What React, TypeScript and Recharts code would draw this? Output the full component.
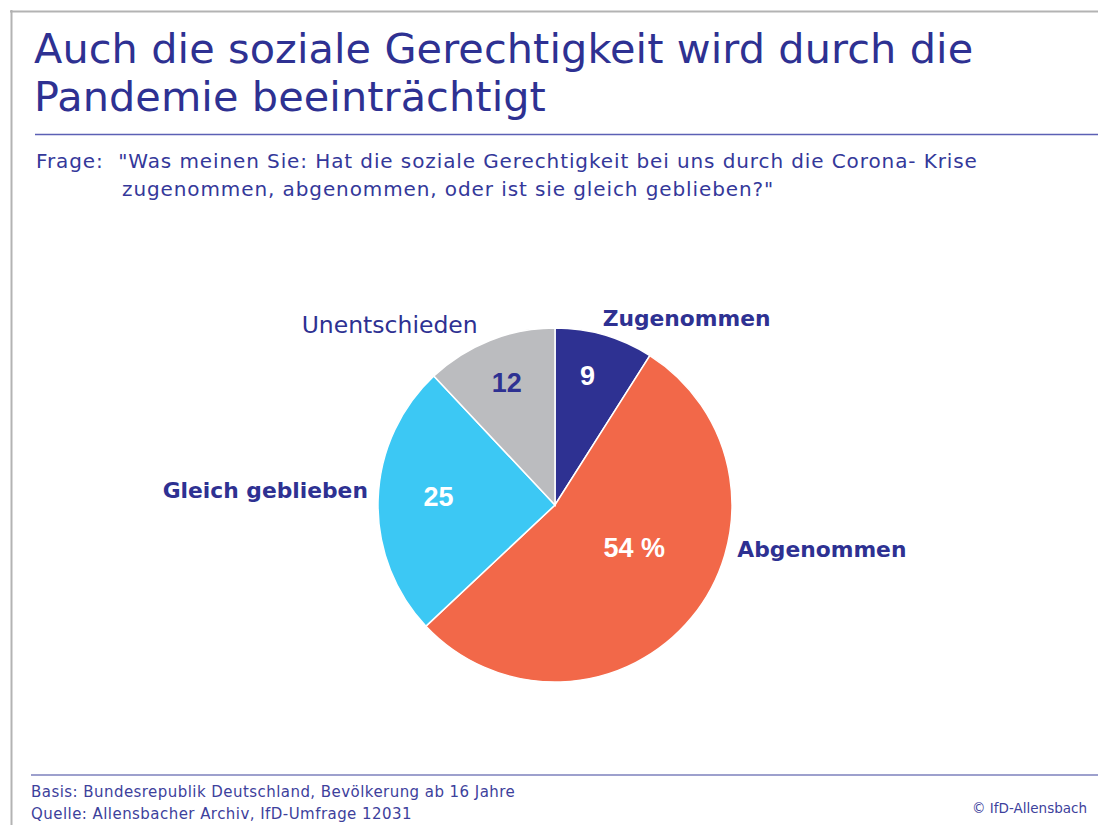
import React from "react";
import { PieChart, Pie, Cell } from "recharts";

const categories = ["Zugenommen", "Abgenommen", "Gleich geblieben", "Unentschieden"];
const shares = [9, 54, 25, 12];
const shareLabels = ["9", "54 %", "25", "12"];

const titleLines = ["Auch die soziale Gerechtigkeit wird durch die", "Pandemie beeinträchtigt"];
const questionLines = [
  "Frage:  \"Was meinen Sie: Hat die soziale Gerechtigkeit bei uns durch die Corona- Krise",
  "zugenommen, abgenommen, oder ist sie gleich geblieben?\"",
];
const footerLines = [
  "Basis: Bundesrepublik Deutschland, Bevölkerung ab 16 Jahre",
  "Quelle: Allensbacher Archiv, IfD-Umfrage 12031",
];
const copyright = "© IfD-Allensbach";

const NAVY = "#2E3192";
const sliceColors = ["#2E3192", "#F26849", "#3CC8F4", "#BBBCBF"];
const valueColors = ["#ffffff", "#ffffff", "#ffffff", NAVY];

// label placement relative to each slice's mid angle
const inside = [
  { r: 0.75, shift: 2 },
  { r: 0.51, shift: 11 },
  { r: 0.66, shift: -2 },
  { r: 0.74, shift: 0 },
];
const outside = [
  { r: 1.29, shift: -19, anchor: "middle", bold: true },
  { r: 1.06, shift: 26, anchor: "start", bold: true },
  { r: 1.06, shift: -2.5, anchor: "end", bold: true },
  { r: 1.38, shift: 21, anchor: "middle", bold: false },
];

const data = categories.map((name, i) => ({ name, value: shares[i], text: shareLabels[i] }));

const RAD = Math.PI / 180;

const renderLabel = (props: any) => {
  const { cx, cy, midAngle, outerRadius, index } = props;
  const inn = inside[index];
  const out = outside[index];
  const a1 = (midAngle + inn.shift) * RAD;
  const a2 = (midAngle + out.shift) * RAD;
  return (
    <g>
      <text
        x={cx + outerRadius * inn.r * Math.cos(a1)}
        y={cy - outerRadius * inn.r * Math.sin(a1)}
        textAnchor="middle"
        dominantBaseline="central"
        fill={valueColors[index]}
        fontFamily="Liberation Sans, Arial, sans-serif"
        fontWeight="bold"
        fontSize={27}
      >
        {data[index].text}
      </text>
      <text
        x={cx + outerRadius * out.r * Math.cos(a2)}
        y={cy - outerRadius * out.r * Math.sin(a2)}
        textAnchor={out.anchor as any}
        dominantBaseline="central"
        fill={NAVY}
        fontFamily="DejaVu Sans, sans-serif"
        fontWeight={out.bold ? "bold" : "normal"}
        fontSize={out.bold ? 21.8 : 23.5}
      >
        {data[index].name}
      </text>
    </g>
  );
};

export default function App() {
  return (
    <div style={{ position: "absolute", left: 0, top: 0, width: 1098, height: 825, background: "#fff" }}>
      <svg width={1098} height={825} style={{ position: "absolute", left: 0, top: 0 }}>
        <line x1={10} y1={11.5} x2={1098} y2={11.5} stroke="#b3b3b3" strokeWidth={2} />
        <line x1={11.5} y1={10} x2={11.5} y2={825} stroke="#b3b3b3" strokeWidth={2} />
        <g fontFamily="DejaVu Sans, sans-serif" fill={NAVY} fontSize={41.4} letterSpacing={0.1}>
          <text x={34} y={63}>{titleLines[0]}</text>
          <text x={34} y={111}>{titleLines[1]}</text>
        </g>
        <line x1={35} y1={134.5} x2={1098} y2={134.5} stroke="#5c60b5" strokeWidth={1.5} />
        <g fontFamily="DejaVu Sans, sans-serif" fill="#34389a" fontSize={20} letterSpacing={0.9}>
          <text x={36} y={168} style={{ whiteSpace: "pre" }}>{questionLines[0]}</text>
          <text x={122} y={196}>{questionLines[1]}</text>
        </g>
        <line x1={31} y1={775} x2={1098} y2={775} stroke="#7d80bd" strokeWidth={1.5} />
        <g fontFamily="DejaVu Sans, sans-serif" fill="#3d419c" fontSize={15} letterSpacing={0.45}>
          <text x={31} y={797}>{footerLines[0]}</text>
          <text x={31} y={819}>{footerLines[1]}</text>
          <text x={1087} y={813} textAnchor="end" fontSize={13.5} letterSpacing={0}>{copyright}</text>
        </g>
      </svg>
      <div style={{ position: "absolute", left: 0, top: 0 }}>
        <PieChart width={1098} height={825} margin={{ top: 0, right: 0, bottom: 0, left: 0 }}>
          <Pie
            data={data}
            dataKey="value"
            nameKey="name"
            cx={555}
            cy={505}
            outerRadius={177}
            startAngle={90}
            endAngle={-270}
            stroke="#ffffff"
            strokeWidth={1.5}
            label={renderLabel}
            labelLine={false}
            isAnimationActive={false}
          >
            {data.map((d, i) => (
              <Cell key={d.name} fill={sliceColors[i]} />
            ))}
          </Pie>
        </PieChart>
      </div>
    </div>
  );
}
